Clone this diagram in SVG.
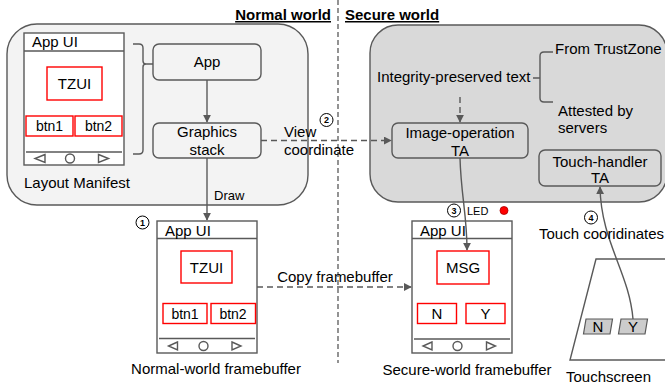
<svg xmlns="http://www.w3.org/2000/svg" width="665" height="385" viewBox="0 0 665 385">
  <defs>
    <marker id="arrow" viewBox="0 0 10 10" refX="9" refY="5" markerWidth="8" markerHeight="8" markerUnits="userSpaceOnUse" orient="auto">
      <path d="M0,0 L10,5 L0,10 z" fill="#595959"/>
    </marker>
    <style>
      text { font-family: "Liberation Sans", Arial, sans-serif; fill: #000; }
      .t15 { font-size: 15px; }
      .t14 { font-size: 14px; }
      .mid { text-anchor: middle; }
      .box { fill: none; stroke: #595959; stroke-width: 1.4; }
      .phone { fill: #fff; stroke: #595959; stroke-width: 1.4; }
      .red { fill: #fff; stroke: #ff0000; stroke-width: 1.4; }
      .ln { fill: none; stroke: #595959; stroke-width: 1.4; }
      .dash { fill: none; stroke: #595959; stroke-width: 1.4; stroke-dasharray: 6 4; }
      .step { fill: #fff; stroke: #000; stroke-width: 1; }
      .num { font-size: 9px; font-weight: bold; text-anchor: middle; }
      .key { fill: #cccccc; stroke: #595959; stroke-width: 1.2; }
    </style>
  </defs>

  <!-- world backgrounds -->
  <g id="normal-world">
    <rect x="7" y="24" width="301" height="181" rx="30" fill="#f3f3f3" stroke="#595959" stroke-width="1.4"/>
    <text x="331" y="20" text-anchor="end" font-size="15" font-weight="bold" text-decoration="underline">Normal world</text>
  </g>
  <g id="secure-world">
    <rect x="370" y="25" width="297" height="177" rx="28" fill="#d9d9d9" stroke="#595959" stroke-width="1.4"/>
    <text x="345" y="20" font-size="15" font-weight="bold" text-decoration="underline">Secure world</text>
  </g>
  <line x1="338" y1="0" x2="338" y2="363" stroke="#595959" stroke-width="1.3" stroke-dasharray="5 3"/>

  <!-- layout manifest phone -->
  <g id="layout-manifest">
    <rect class="phone" x="24" y="33" width="100" height="132"/>
    <line class="ln" x1="24" y1="51" x2="124" y2="51"/>
    <text class="t15" x="32" y="47">App UI</text>
    <rect class="red" x="47" y="67" width="55" height="33"/>
    <text class="t15 mid" x="74.5" y="89">TZUI</text>
    <rect class="red" x="26" y="116" width="47" height="20"/>
    <text class="t14 mid" x="49.5" y="131">btn1</text>
    <rect class="red" x="75" y="116" width="47" height="20"/>
    <text class="t14 mid" x="98.5" y="131">btn2</text>
    <line class="ln" x1="26" y1="152" x2="122" y2="152"/>
    <path class="ln" d="M45,154.5 L35,158.5 L45,162.5 z"/>
    <circle class="ln" cx="70" cy="158.5" r="4.5"/>
    <path class="ln" d="M98.5,154.5 L108.5,158.5 L98.5,162.5 z"/>
    <text class="t15" x="24" y="188">Layout Manifest</text>
  </g>

  <!-- bracket grouping the layout -->
  <path class="ln" d="M133,44 L139,44 Q143,44 143,48 L143,61 Q143,64 146,64 L153,64 M146,64 Q143,64 143,67 L143,150 Q143,154 139,154 L133,154"/>

  <g id="app">
    <rect class="box" x="153" y="44" width="108" height="36" rx="6"/>
    <text class="t15 mid" x="207" y="67">App</text>
  </g>
  <g id="graphics-stack">
    <rect class="box" x="153" y="123" width="108" height="35" rx="6"/>
    <text class="t15 mid" x="207" y="137">Graphics</text>
    <text class="t15 mid" x="207" y="155">stack</text>
  </g>

  <g id="integrity-text">
    <text class="t15" x="377" y="82">Integrity-preserved text</text>
    <path class="ln" d="M533,78 L540,78 M553,52 L544,52 Q540,52 540,56 L540,98 Q540,102 544,102 L553,102"/>
    <text class="t15" x="555" y="54">From TrustZone</text>
    <text class="t15" x="558" y="116">Attested by</text>
    <text class="t15" x="558" y="133">servers</text>
  </g>

  <g id="image-operation-ta">
    <rect class="box" x="392" y="123" width="136" height="35" rx="6"/>
    <text class="t15 mid" x="460" y="138">Image-operation</text>
    <text class="t15 mid" x="460" y="156">TA</text>
  </g>
  <g id="touch-handler-ta">
    <rect class="box" x="539" y="150" width="122" height="36" rx="6"/>
    <text class="t15 mid" x="600" y="167">Touch-handler</text>
    <text class="t15 mid" x="600" y="183">TA</text>
  </g>

  <!-- normal-world framebuffer -->
  <g id="normal-framebuffer">
    <rect class="phone" x="157" y="221" width="100" height="132"/>
    <line class="ln" x1="157" y1="238.5" x2="257" y2="238.5"/>
    <text class="t15" x="165" y="236">App UI</text>
    <rect class="red" x="181" y="251" width="51" height="32"/>
    <text class="t15 mid" x="206.5" y="273">TZUI</text>
    <rect class="red" x="163" y="303.5" width="44" height="20"/>
    <text class="t14 mid" x="185" y="318.5">btn1</text>
    <rect class="red" x="211" y="303.5" width="44.5" height="20"/>
    <text class="t14 mid" x="233" y="318.5">btn2</text>
    <line class="ln" x1="159" y1="338.5" x2="255" y2="338.5"/>
    <path class="ln" d="M177.5,342 L168.5,346 L177.5,350 z"/>
    <circle class="ln" cx="203.5" cy="346" r="4.5"/>
    <path class="ln" d="M232,342 L241,346 L232,350 z"/>
    <text class="t15 mid" x="216" y="374">Normal-world framebuffer</text>
  </g>

  <!-- secure-world framebuffer -->
  <g id="secure-framebuffer">
    <rect class="phone" x="412" y="221" width="100" height="132"/>
    <line class="ln" x1="412" y1="238.5" x2="512" y2="238.5"/>
    <text class="t15" x="420" y="236">App UI</text>
    <rect class="red" x="437" y="251" width="52" height="33"/>
    <text class="t15 mid" x="463" y="273">MSG</text>
    <rect class="red" x="417.5" y="303.5" width="39" height="20"/>
    <text class="t15 mid" x="437" y="319">N</text>
    <rect class="red" x="466" y="303.5" width="39" height="20"/>
    <text class="t15 mid" x="485.5" y="319">Y</text>
    <line class="ln" x1="414" y1="339" x2="510" y2="339"/>
    <path class="ln" d="M432,342 L423,346 L432,350 z"/>
    <circle class="ln" cx="457.5" cy="346" r="4.5"/>
    <path class="ln" d="M486.5,342 L495.5,346 L486.5,350 z"/>
    <text class="t15 mid" x="467" y="375">Secure-world framebuffer</text>
  </g>

  <g id="led">
    <text x="467" y="215" font-size="11">LED</text>
    <circle cx="504" cy="210.5" r="4" fill="#ff0000" stroke="#a00" stroke-width="0.8"/>
  </g>

  <!-- touchscreen -->
  <g id="touchscreen">
    <path class="phone" d="M596,259 L705,259 L679,360 L570,360 z"/>
    <path class="key" d="M586,319 L612.5,319 L610,334 L583.5,334 z"/>
    <text class="t15 mid" x="598" y="332">N</text>
    <path class="key" d="M621,319 L647.5,319 L645,334 L618.5,334 z"/>
    <text class="t15 mid" x="633" y="332">Y</text>
    <text class="t15" x="566" y="382">Touchscreen</text>
  </g>

  <!-- connectors -->
  <g id="connectors">
    <line class="ln" x1="207" y1="80" x2="207" y2="122" marker-end="url(#arrow)"/>
    <line class="ln" x1="207" y1="158" x2="207" y2="220" marker-end="url(#arrow)"/>
    <text x="214" y="200" font-size="13">Draw</text>
    <line class="dash" x1="261" y1="140.5" x2="391" y2="140.5" marker-end="url(#arrow)"/>
    <text class="t15" x="284" y="137">View</text>
    <text class="t15" x="284" y="155">coordinate</text>
    <line class="dash" x1="460" y1="97" x2="460" y2="122" marker-end="url(#arrow)"/>
    <line class="dash" x1="257" y1="287" x2="411" y2="287" marker-end="url(#arrow)"/>
    <text class="t15 mid" x="335" y="282">Copy framebuffer</text>
    <path class="ln" d="M460,158 C461,195 467,215 467,250" marker-end="url(#arrow)"/>
    <path class="ln" d="M633,319 C629,272 601,242 600,187" marker-end="url(#arrow)"/>
    <text class="t15" x="539" y="239">Touch cooridinates</text>
  </g>

  <!-- step markers -->
  <g id="step-1"><circle class="step" cx="142.5" cy="222.5" r="6.5"/><text class="num" x="142.5" y="225.8">1</text></g>
  <g id="step-2"><circle class="step" cx="326.5" cy="120" r="6.5"/><text class="num" x="326.5" y="123.3">2</text></g>
  <g id="step-3"><circle class="step" cx="454" cy="210.5" r="6.5"/><text class="num" x="454" y="213.8">3</text></g>
  <g id="step-4"><circle class="step" cx="591" cy="217.5" r="6.5"/><text class="num" x="591" y="220.8">4</text></g>
</svg>
